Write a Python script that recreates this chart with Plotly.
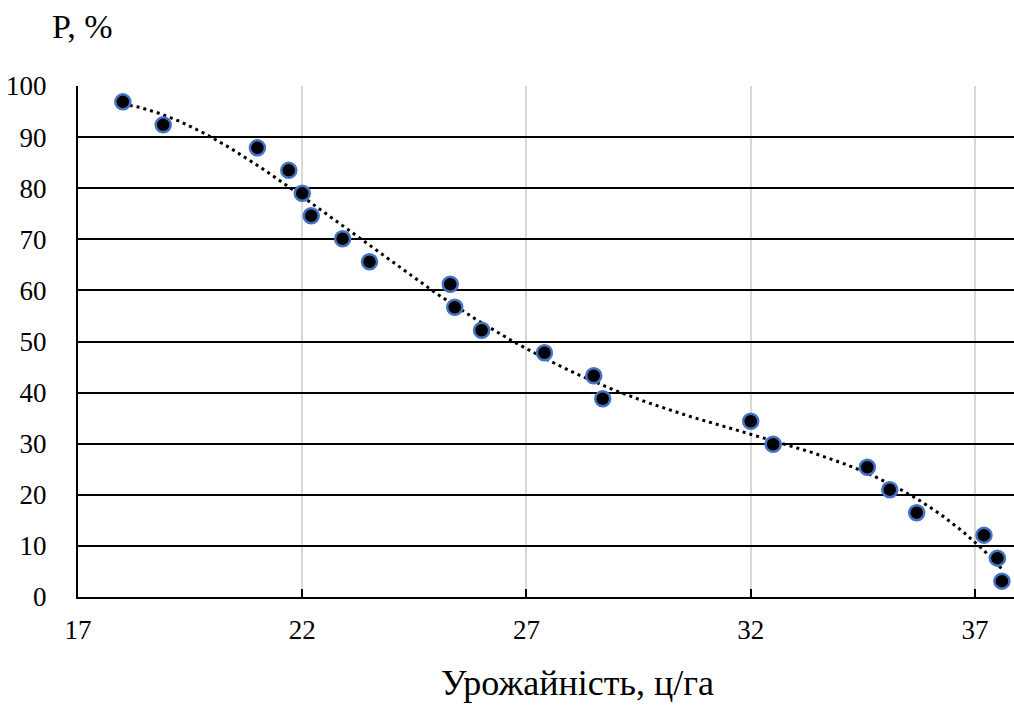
import numpy as np
import plotly.graph_objects as go

# Data
yield_c_ha = [18.0, 18.9, 21.0, 21.7, 22.0, 22.2, 22.9, 23.5, 25.3, 25.4, 26.0,
              27.4, 28.5, 28.7, 32.0, 32.5, 34.6, 35.1, 35.7, 37.2, 37.5, 37.6]
prob_pct = [96.9, 92.4, 87.9, 83.5, 79.0, 74.6, 70.1, 65.6, 61.2, 56.7, 52.2,
            47.8, 43.3, 38.8, 34.4, 29.9, 25.4, 21.0, 16.5, 12.1, 7.6, 3.1]
x_ticks = [17, 22, 27, 32, 37]
y_ticks = [0, 10, 20, 30, 40, 50, 60, 70, 80, 90, 100]

FONT = "'Liberation Serif', 'Times New Roman', serif"

# Polynomial trend line fitted to the data
poly = np.polynomial.Polynomial.fit(yield_c_ha, prob_pct, 4)
xt = np.linspace(min(yield_c_ha), max(yield_c_ha), 400)
yt = poly(xt)

fig = go.Figure()
fig.add_trace(go.Scatter(x=xt, y=yt, mode="lines",
                         line=dict(color="black", width=3, dash="3px,4px"),
                         hoverinfo="skip", showlegend=False))
fig.add_trace(go.Scatter(x=yield_c_ha, y=prob_pct, mode="markers",
                         marker=dict(size=15, color="black",
                                     line=dict(color="#4472C4", width=2.5)),
                         showlegend=False))

fig.update_layout(
    width=1014, height=719,
    margin=dict(l=78, r=0, t=86, b=122),
    paper_bgcolor="white", plot_bgcolor="white",
    font=dict(family=FONT, size=27, color="black"),
    xaxis=dict(range=[17, 37.87], tickvals=x_ticks,
               showgrid=True, gridcolor="#d9d9d9", gridwidth=2,
               showline=True, linecolor="black", linewidth=2,
               ticks="inside", ticklen=8, tickwidth=2, tickcolor="black",
               ticklabelstandoff=8, zeroline=False),
    yaxis=dict(range=[0, 100], tickvals=y_ticks,
               showgrid=True, gridcolor="black", gridwidth=1.6,
               showline=True, linecolor="black", linewidth=2,
               ticks="", ticklabelstandoff=24, zeroline=False),
    annotations=[
        dict(text="P, %", xref="paper", yref="paper", showarrow=False,
             font=dict(family=FONT, size=34, color="black")),
        dict(text="Урожайність, ц/га", xref="paper", yref="paper", showarrow=False,
             font=dict(family=FONT, size=36, color="black")),
    ],
)
pw = 1014 - 78
ph = 719 - 86 - 122
fig.layout.annotations[0].update(x=(50 - 78) / pw, y=(597 - 27) / ph,
                                 xanchor="left", yanchor="middle")
fig.layout.annotations[1].update(x=(577 - 78) / pw, y=(597 - 683) / ph,
                                 xanchor="center", yanchor="middle")

fig.write_html("out.html")
